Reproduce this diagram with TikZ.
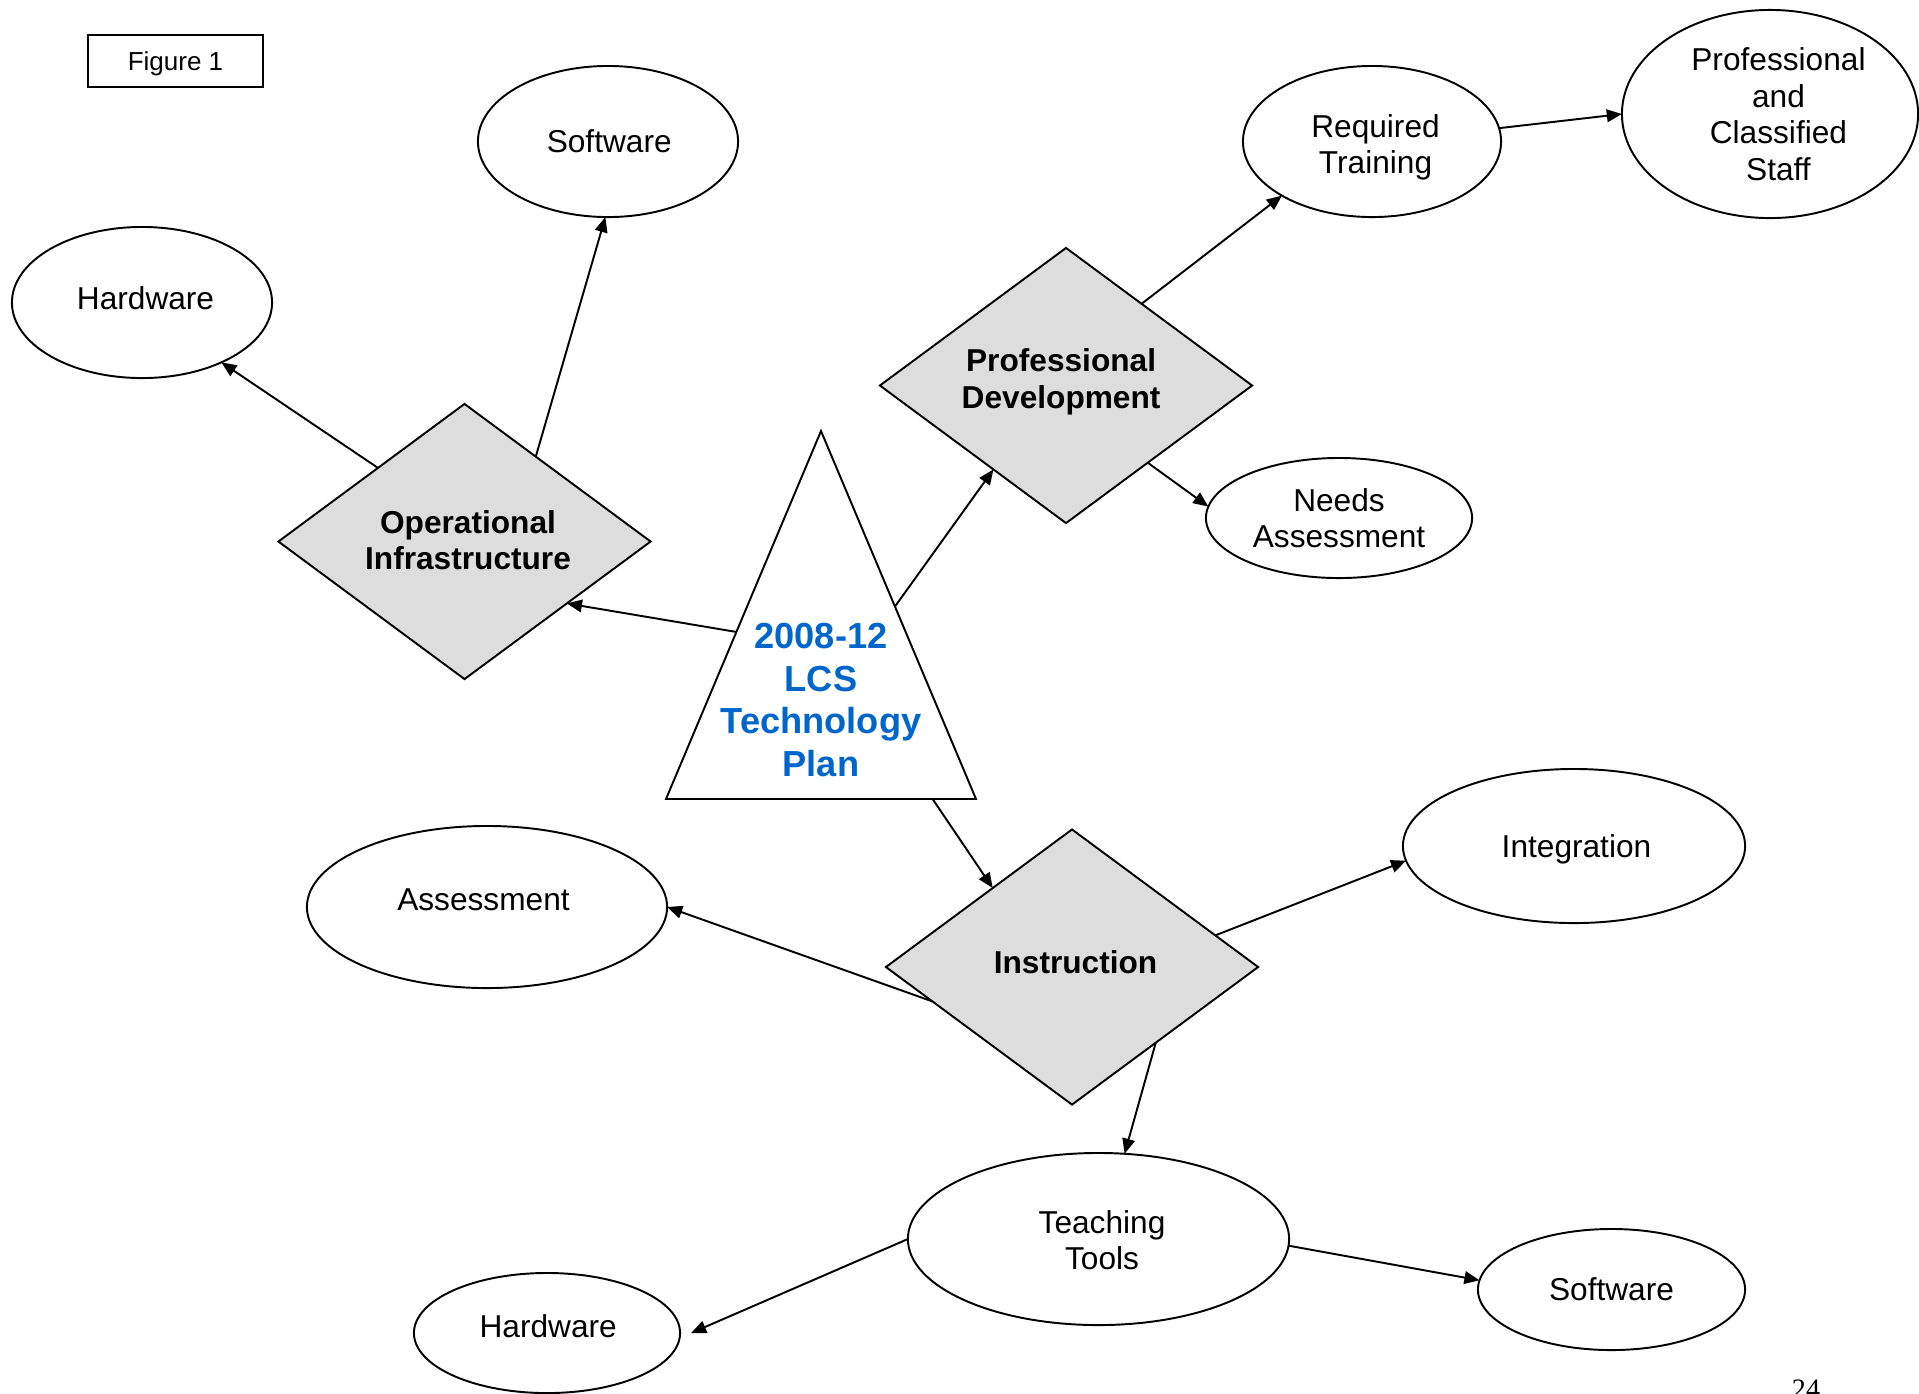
\documentclass[tikz,border=0pt]{standalone}
\usepackage{fontspec}
\setmainfont{Liberation Sans}
\newfontfamily\pagefont{Liberation Serif}
\usetikzlibrary{shapes.geometric,arrows.meta,calc}
\definecolor{diafill}{RGB}{221,221,221}
\definecolor{planblue}{RGB}{0,102,204}

\begin{document}
\begin{tikzpicture}[x=0.01cm,y=-0.01cm,
  every node/.style={font=\fontsize{9}{10.4}\selectfont, align=center},
  oval/.style={draw, ellipse, inner sep=0pt, outer sep=0pt, line width=0.55pt},
  topic/.style={draw, diamond, fill=diafill, inner sep=0pt, outer sep=0pt,
    line width=0.55pt, minimum width=3.72cm, minimum height=2.75cm},
  topictext/.style={font=\bfseries\fontsize{9}{10.4}\selectfont},
  link/.style={line width=0.55pt, -{Triangle[length=4.3pt,width=3.6pt]}},
]
\clip (0,0) rectangle (1919,1393);
\fill[white] (0,0) rectangle (1919,1393);

% caption box
\node[draw, line width=0.6pt, minimum width=1.75cm, minimum height=0.52cm,
      inner sep=0pt, outer sep=0pt,
      label={[font=\fontsize{7.4}{9}\selectfont, yshift=-0.7pt]center:Figure 1}] (fig) at (175.5,61) {};

% central plan triangle
\coordinate (tA) at (821,431);
\coordinate (tL) at (666,799);
\coordinate (tR) at (976,799);
\draw[line width=0.55pt] (tA) -- (tR) -- (tL) -- cycle;
\node[font=\bfseries\fontsize{10.3}{12.2}\selectfont, text=planblue] (plan) at (821,700)
  {2008-12\\LCS\\Technology\\Plan};

% three focus areas
\node[topic, label={[topictext, xshift=1pt, yshift=0.35pt]center:Operational\\Infrastructure}] (oi) at (464.5,541.5) {};
\node[topic, label={[topictext, xshift=-1.4pt, yshift=1.1pt]center:Professional\\Development}] (pd) at (1066,385.5) {};
\node[topic, label={[topictext, xshift=1pt, yshift=1.35pt]center:Instruction}] (ins) at (1072,967) {};

% components
\node[oval, minimum width=2.60cm, minimum height=1.51cm, label={[xshift=0.35pt]center:Software}] (swT) at (608,141.5) {};
\node[oval, minimum width=2.60cm, minimum height=1.51cm, label={[xshift=1pt, yshift=1.35pt]center:Hardware}] (hwT) at (142,302.5) {};
\node[oval, minimum width=2.58cm, minimum height=1.51cm, label={[xshift=1pt, yshift=-1.7pt]center:Required\\Training}] (rt) at (1372,141.5) {};
\node[oval, minimum width=2.96cm, minimum height=2.08cm, label={[xshift=2.4pt]center:Professional\\and\\Classified\\Staff}] (staff) at (1770,114) {};
\node[oval, minimum width=2.66cm, minimum height=1.20cm, label={center:Needs\\Assessment}] (na) at (1339,518) {};
\node[oval, minimum width=3.42cm, minimum height=1.54cm, label={[xshift=0.7pt, yshift=-1pt]center:Integration}] (int) at (1574,846) {};
\node[oval, minimum width=3.60cm, minimum height=1.62cm, label={[xshift=-1pt, yshift=2pt]center:Assessment}] (ass) at (487,907) {};
\node[oval, minimum width=3.81cm, minimum height=1.72cm, label={[xshift=1pt, yshift=-0.35pt]center:Teaching\\Tools}] (tt) at (1098.5,1239) {};
\node[oval, minimum width=2.66cm, minimum height=1.20cm, label={[xshift=0.35pt, yshift=2.05pt]center:Hardware}] (hwB) at (547,1333) {};
\node[oval, minimum width=2.67cm, minimum height=1.21cm, label=center:Software] (swB) at (1611.5,1289.5) {};

% page number
\node[font=\pagefont\fontsize{8}{9.6}\selectfont, anchor=north, inner sep=0pt] (pg) at (1806,1379) {24};

% connectors
\draw[link] ($(oi.north)!0.383!(oi.east)$) -- (swT.-92);
\draw[link] ($(oi.west)!0.535!(oi.north)$) -- (hwT.-37);
\draw[link] ($(tA)!0.546!(tL)$) -- ($(oi.east)!0.45!(oi.south)$);
\draw[link] ($(tA)!0.477!(tR)$) -- ($(pd.west)!0.61!(pd.south)$);
\draw[link] ($(pd.north)!0.406!(pd.east)$) -- (rt.-149);
\draw[link] ($(pd.east)!0.561!(pd.south)$) -- (na.175);
\draw[link] (rt.6) -- (staff.180);
\draw[link] ($(tL)!0.86!(tR)$) -- ($(ins.west)!0.574!(ins.north)$);
\draw[link] ($(ins.north)!0.77!(ins.east)$) -- (int.185);
\draw[link] ($(ins.west)!0.25!(ins.south)$) -- (ass.0);
\draw[link] ($(ins.east)!0.55!(ins.south)$) -- (tt.73);
\draw[link] (tt.180) -- ($(hwB.east)+(11,0)$);
\draw[link] (tt.-2) -- (swB.176);
\end{tikzpicture}
\end{document}
